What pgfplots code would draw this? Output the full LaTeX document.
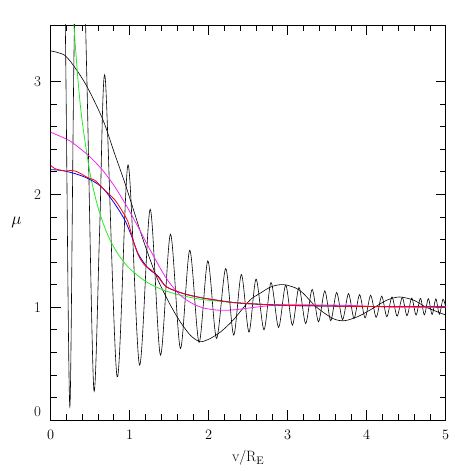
\documentclass[border=0pt]{standalone}
\usepackage{pgfplots}
\pgfplotsset{compat=1.18}
\definecolor{lgreen}{RGB}{40,235,40}
\definecolor{lmag}{RGB}{240,40,240}
\begin{document}
\begin{tikzpicture}
\begin{axis}[
  scale only axis, width=395bp, height=395bp,
  xmin=0, xmax=5, ymin=0, ymax=3.5,
  xtick={0,1,2,3,4,5}, ytick={0,1,2,3},
  yticklabels={\raisebox{3.5bp}[0pt][0pt]{0},1,2,3},
  minor x tick num=4, minor y tick num=4,
  tick pos=both, tick align=inside,
  xticklabel pos=lower, yticklabel pos=left,
  major tick length=10bp, minor tick length=6bp,
  axis line style={line width=0.6bp},
  every tick/.style={line width=0.6bp, black},
  xticklabel style={anchor=center, yshift=-15bp, font=\fontsize{15}{17}\selectfont},
  yticklabel style={anchor=center, xshift=-13bp, font=\fontsize{15}{17}\selectfont},
  xlabel={v/R$_{\mathrm{E}}$}, ylabel={$\mu$},
  every axis x label/.style={at={(rel axis cs:0.5,0)}, anchor=center, yshift=-38bp, font=\fontsize{15}{17}\selectfont},
  every axis y label/.style={at={(rel axis cs:0,0.5)}, anchor=center, xshift=-34bp, font=\fontsize{16}{18}\selectfont},
]
% fringe curve
\addplot[black, line width=0.6bp, smooth] coordinates {
  (0.14,6.0) (0.19,3.3) (0.244,0.118) (0.30,3.4) (0.38,5.0) (0.46,3.0)
  (0.547,0.274) (0.62,1.66) (0.69,3.04) (0.842,0.383)
  (0.98,2.26) (1.125,0.487) (1.26,1.867) (1.39,0.575) (1.517,1.646) (1.643,0.634)
  (1.761,1.504) (1.879,0.688) (1.99,1.41) (2.10,0.723) (2.216,1.342) (2.317,0.752)
  (2.414,1.289) (2.51,0.78) (2.60,1.248) (2.70,0.80) (2.79,1.218) (2.885,0.82)
  (2.975,1.195) (3.06,0.84) (3.143,1.174) (3.228,0.855) (3.31,1.157) (3.39,0.87)
  (3.47,1.144) (3.545,0.88) (3.62,1.13) (3.695,0.89) (3.77,1.12) (3.84,0.90)
  (3.91,1.11) (3.98,0.905) (4.05,1.105) (4.12,0.91) (4.19,1.097) (4.255,0.915)
  (4.32,1.09) (4.385,0.92) (4.45,1.085) (4.51,0.925) (4.57,1.08) (4.625,0.93)
  (4.68,1.078) (4.73,0.932) (4.78,1.075) (4.828,0.935) (4.875,1.073) (4.92,0.937)
  (4.965,1.07) (5.0,1.0)};
% slow black curve
\addplot[black, line width=0.6bp, smooth] coordinates {
  (0,3.27) (0.18,3.23) (0.33,3.10) (0.475,2.935) (0.665,2.655) (0.81,2.36)
  (0.94,2.10) (1.05,1.86) (1.15,1.64) (1.255,1.43) (1.34,1.27) (1.42,1.15)
  (1.53,1.00) (1.65,0.86) (1.77,0.75) (1.887,0.695) (2.0,0.715) (2.15,0.78)
  (2.31,0.885) (2.52,1.06) (2.646,1.12) (2.79,1.18) (2.94,1.20) (3.1,1.17)
  (3.2,1.12) (3.36,1.003) (3.57,0.90) (3.72,0.88) (3.9,0.92) (4.08,0.99)
  (4.25,1.06) (4.415,1.09) (4.6,1.06) (4.75,1.0) (5.0,0.93)};
% point source
\addplot[lgreen, line width=0.8bp, smooth] coordinates {
  (0.26,3.943) (0.28,3.675) (0.3,3.445) (0.35,2.987) (0.4,2.648) (0.5,2.183)
  (0.6,1.884) (0.7,1.679) (0.8,1.532) (0.9,1.424) (1.0,1.342) (1.2,1.229)
  (1.4,1.159) (1.6,1.113) (1.8,1.082) (2.0,1.061) (2.5,1.031) (3.0,1.017)
  (3.5,1.010) (4.0,1.006) (4.5,1.004) (5.0,1.003)};
% magenta
\addplot[lmag, line width=0.8bp, smooth] coordinates {
  (0,2.55) (0.1,2.52) (0.25,2.47) (0.4,2.39) (0.5,2.33) (0.65,2.22) (0.8,2.08)
  (0.95,1.91) (1.1,1.72) (1.25,1.52) (1.4,1.33) (1.5,1.22) (1.65,1.10) (1.8,1.03)
  (1.95,0.99) (2.15,0.972) (2.35,0.978) (2.6,1.0) (2.9,1.02) (3.3,1.02)
  (3.8,1.015) (4.3,1.0) (5.0,1.0)};
% blue
\addplot[blue, line width=0.8bp, smooth] coordinates {
  (0,2.218) (0.18,2.206) (0.43,2.153) (0.645,2.065) (0.81,1.917) (0.94,1.77)
  (1.03,1.62) (1.11,1.47) (1.234,1.345) (1.36,1.275) (1.466,1.18) (1.676,1.121)
  (1.887,1.086) (2.1,1.062) (2.31,1.041) (2.6,1.027) (3.0,1.015) (3.5,1.01)
  (4.0,1.005) (4.5,1.005) (5.0,1.003)};
% red
\addplot[red, line width=0.8bp, smooth] coordinates {
  (0,2.257) (0.054,2.227) (0.18,2.206) (0.25,2.21) (0.31,2.206) (0.39,2.18)
  (0.475,2.145) (0.56,2.124) (0.623,2.08) (0.73,2.006) (0.81,1.953) (0.90,1.858)
  (0.98,1.755) (1.045,1.593) (1.11,1.46) (1.19,1.372) (1.277,1.327) (1.36,1.268)
  (1.466,1.18) (1.676,1.121) (1.887,1.086) (2.1,1.062) (2.31,1.041) (2.6,1.027)
  (3.0,1.015) (3.5,1.01) (4.0,1.005) (4.5,1.005) (5.0,1.003)};
\coordinate (BB1) at (rel axis cs:-0.128,-0.129);
\coordinate (BB2) at (rel axis cs:1.063,1.063);
\end{axis}
\path (BB1) rectangle (BB2);
\end{tikzpicture}
\end{document}
